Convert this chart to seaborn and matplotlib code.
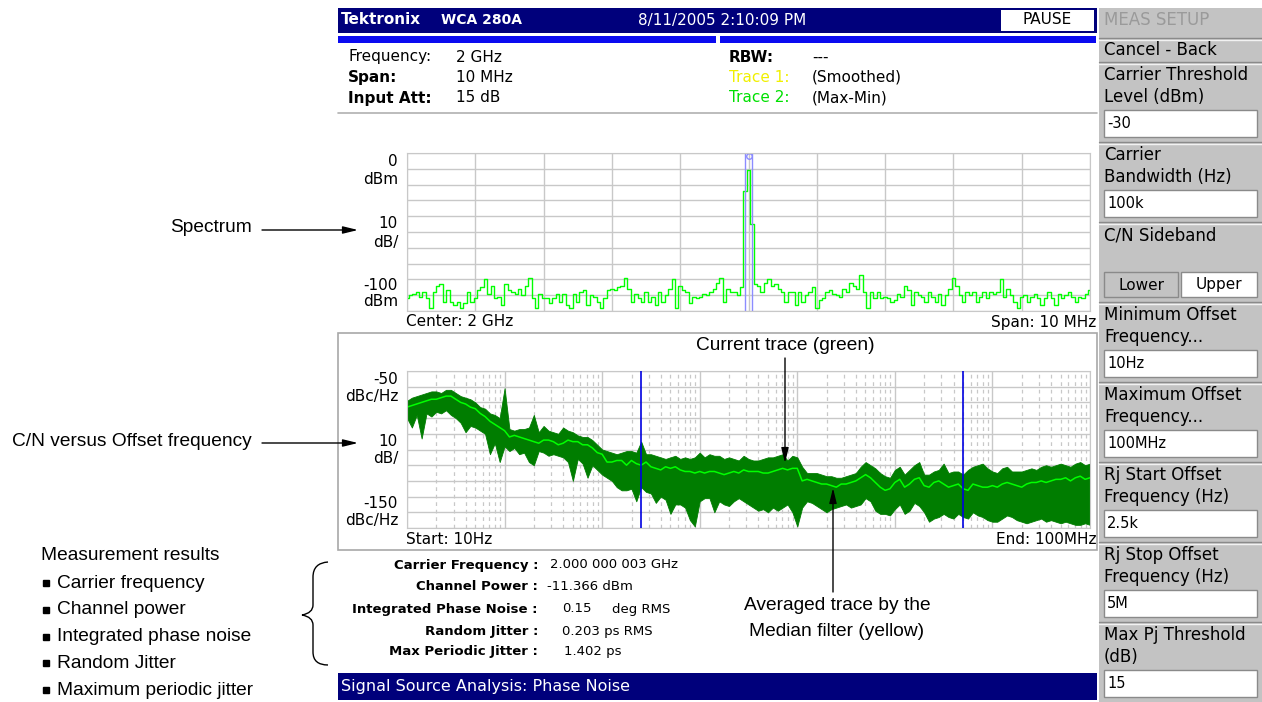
import numpy as np
import matplotlib
matplotlib.use('Agg')
import matplotlib.pyplot as plt
import seaborn as sns
from matplotlib.patches import Rectangle, PathPatch
from matplotlib.path import Path

sns.set_style('white')
plt.rcParams['font.family'] = ['DejaVu Sans']
plt.rcParams['text.color'] = 'black'

# spectrum trace, dBm, 1995..2005 MHz (0.05 MHz steps)
spectrum_dbm = [
    -92, -90, -89, -88, -91, -88, -92, -98, -88, -84,
    -83, -94, -87, -94, -96, -94, -98, -95, -88, -94,
    -92, -87, -85, -80, -89, -84, -92, -91, -96, -83,
    -87, -88, -89, -86, -90, -84, -79, -92, -98, -89,
    -92, -92, -95, -92, -89, -94, -89, -96, -98, -89,
    -94, -88, -87, -96, -90, -91, -94, -98, -92, -87,
    -86, -87, -85, -84, -79, -86, -94, -89, -92, -94,
    -88, -94, -91, -96, -88, -94, -90, -86, -80, -98,
    -84, -87, -88, -95, -91, -92, -91, -89, -90, -88,
    -86, -82, -79, -94, -86, -88, -88, -90, -85,
    -24, -11, -45,
    -83, -84, -88, -82, -80, -84, -83, -86, -88,
    -94, -88, -88, -96, -88, -94, -90, -88, -85, -98,
    -93, -92, -88, -87, -89, -90, -91, -86, -88, -82,
    -84, -86, -77, -88, -98, -88, -92, -88, -92, -91,
    -92, -94, -93, -89, -91, -84, -87, -96, -88, -90,
    -91, -94, -88, -91, -94, -89, -96, -90, -86, -79,
    -84, -90, -94, -88, -90, -88, -94, -91, -88, -92,
    -88, -89, -88, -80, -91, -86, -90, -94, -98, -91,
    -90, -94, -91, -89, -92, -96, -92, -88, -92, -96,
    -89, -92, -90, -88, -91, -94, -91, -92, -89, -87,
]

# phase noise, dBc/Hz, 10 Hz..100 MHz (0.05 decade steps)
smoothed = [
    -73, -72, -71, -70, -69, -68, -68, -67, -66, -66,
    -68, -70, -71, -73, -74, -77, -79, -82, -84, -86,
    -88, -92, -91, -92, -93, -94, -95, -96, -94, -94,
    -95, -97, -96, -94, -95, -95, -97, -97, -99, -102,
    -103, -108, -108, -107, -107, -110, -107, -109, -110, -108,
    -111, -112, -113, -111, -112, -111, -113, -114, -114, -115,
    -114, -115, -114, -114, -115, -116, -115, -114, -115, -113,
    -114, -114, -114, -115, -115, -114, -113, -112, -113, -112,
    -112, -120, -119, -120, -121, -122, -122, -123, -124, -122,
    -122, -121, -120, -118, -116, -118, -121, -124, -126, -125,
    -121, -119, -124, -122, -119, -118, -123, -124, -121, -120,
    -122, -124, -123, -122, -125, -126, -122, -123, -124, -124,
    -123, -124, -122, -121, -122, -123, -124, -122, -121, -121,
    -120, -121, -120, -119, -119, -118, -120, -118, -117, -119, -118,
]
max_trace = [
    -69, -67, -66, -65, -64, -63, -63, -64, -62, -62,
    -64, -66, -67, -68, -70, -73, -74, -77, -78, -80,
    -61, -87, -88, -87, -87, -86, -78, -89, -85, -88,
    -89, -90, -86, -88, -89, -91, -92, -92, -94, -97,
    -100, -101, -102, -103, -102, -101, -101, -102, -95, -103,
    -103, -104, -105, -106, -105, -104, -106, -105, -106, -105,
    -102, -105, -103, -104, -104, -106, -105, -106, -107, -104,
    -106, -107, -107, -106, -105, -105, -104, -103, -107, -104,
    -105, -111, -115, -115, -115, -116, -117, -117, -118, -118,
    -117, -116, -115, -111, -108, -110, -112, -115, -117, -118,
    -113, -111, -116, -113, -110, -108, -116, -116, -114, -113,
    -109, -115, -114, -114, -116, -113, -111, -110, -109, -112,
    -114, -115, -112, -111, -114, -114, -114, -113, -112, -113,
    -111, -110, -111, -110, -109, -110, -111, -109, -108, -110, -109,
]
min_trace = [
    -80, -86, -78, -93, -77, -79, -76, -77, -75, -78,
    -80, -83, -89, -85, -86, -88, -90, -103, -96, -108,
    -98, -101, -99, -103, -102, -108, -110, -101, -102, -104,
    -103, -104, -105, -108, -120, -106, -109, -118, -110, -113,
    -116, -118, -120, -124, -126, -126, -125, -133, -124, -127,
    -128, -134, -130, -132, -141, -135, -135, -137, -145, -149,
    -133, -131, -131, -140, -133, -135, -136, -133, -131, -133,
    -135, -137, -139, -138, -140, -137, -139, -137, -135, -140,
    -149, -137, -133, -134, -136, -138, -140, -138, -137, -136,
    -135, -137, -136, -135, -131, -133, -139, -141, -141, -142,
    -138, -135, -141, -139, -134, -136, -140, -146, -144, -143,
    -141, -143, -144, -141, -143, -144, -140, -142, -143, -145,
    -146, -146, -144, -142, -143, -145, -146, -147, -146, -145,
    -144, -146, -145, -146, -147, -146, -147, -148, -148, -147, -148,
]
rj_limits_hz = [2.5e3, 5e6]
carrier_band_mhz = [1999.95, 2000.05]

header_left = [('Frequency:', '2 GHz', 'normal'), ('Span:', '10 MHz', 'bold'),
               ('Input Att:', '15 dB', 'bold')]
header_right = [('RBW:', '---', 'black'), ('Trace 1:', '(Smoothed)', '#f0f000'),
                ('Trace 2:', '(Max-Min)', '#00e000')]
results = [('Carrier Frequency :', '2.000 000 003 GHz', 550),
           ('Channel Power :', '-11.366 dBm', 547),
           ('Integrated Phase Noise :', '0.15', 562),
           ('Random Jitter :', '0.203 ps RMS', 562),
           ('Max Periodic Jitter :', '1.402 ps', 564)]
menu_items = [('Carrier Threshold', 'Level (dBm)', '-30'),
              ('Carrier', 'Bandwidth (Hz)', '100k'),
              ('C/N Sideband', '', None),
              ('Minimum Offset', 'Frequency...', '10Hz'),
              ('Maximum Offset', 'Frequency...', '100MHz'),
              ('Rj Start Offset', 'Frequency (Hz)', '2.5k'),
              ('Rj Stop Offset', 'Frequency (Hz)', '5M'),
              ('Max Pj Threshold', '(dB)', '15')]
bullets = ['Carrier frequency', 'Channel power', 'Integrated phase noise',
           'Random Jitter', 'Maximum periodic jitter']

W, H = 1262, 702
fig = plt.figure(figsize=(W / 100, H / 100), dpi=100)


def rect(x0, y0, x1, y1):
    return [x0 / W, 1 - y1 / H, (x1 - x0) / W, (y1 - y0) / H]


grid_c = '#c8c8c8'
navy = '#00007b'
bright = '#00ff00'
dark = '#007d00'

# spectrum
ax1 = fig.add_axes(rect(407, 153, 1090, 311))
freq = np.linspace(1995, 2005, len(spectrum_dbm))
sns.lineplot(x=freq, y=spectrum_dbm, ax=ax1, color=bright, lw=1.0,
             estimator=None, sort=False, legend=False, drawstyle='steps-mid')
for f in carrier_band_mhz:
    ax1.axvline(f, color='#8c8cff', lw=1)
ax1.plot(2000, -2, marker='o', ms=4, mfc='none', mec='#8c8cff', clip_on=False)
ax1.set_xlim(1995, 2005)
ax1.set_ylim(-100, 0)
ax1.set_xticks(np.arange(1995, 2006, 1))
ax1.set_yticks(np.arange(-100, 1, 10))

# phase noise
ax2 = fig.add_axes(rect(407, 371, 1090, 528))
offs = np.logspace(1, 8, len(smoothed))
ax2.fill_between(offs, min_trace, max_trace, color=dark, lw=0.6, edgecolor=dark)
sns.lineplot(x=offs, y=smoothed, ax=ax2, color=bright, lw=1.1,
             estimator=None, sort=False, legend=False)
for f in rj_limits_hz:
    ax2.axvline(f, color='#0000e0', lw=1.2, zorder=5)
ax2.set_xscale('log')
ax2.set_xlim(10, 1e8)
ax2.set_ylim(-150, -50)
ax2.set_xticks(10.0 ** np.arange(1, 9))
ax2.set_xticks([m * 10.0 ** d for d in range(1, 8) for m in range(2, 10)], minor=True)
ax2.set_yticks(np.arange(-150, -49, 10))
ax2.grid(True, which='minor', axis='x', color=grid_c, lw=0.9, ls=(0, (3, 3)))

for ax in (ax1, ax2):
    ax.set_facecolor('white')
    ax.grid(True, which='major', color=grid_c, lw=1)
    ax.set_axisbelow(True)
    ax.tick_params(which='both', length=0, labelbottom=False, labelleft=False)
    ax.set_xlabel('')
    ax.set_ylabel('')
    for s in ax.spines.values():
        s.set_color(grid_c)

# overlay for all the screen furniture
top = fig.add_axes([0, 0, 1, 1], zorder=10)
top.set_xlim(0, W)
top.set_ylim(H, 0)
top.axis('off')
top.patch.set_visible(False)


def box(x0, y0, x1, y1, **kw):
    top.add_patch(Rectangle((x0, y0), x1 - x0, y1 - y0, **kw))


def txt(x, y, s, **kw):
    kw.setdefault('va', 'center')
    kw.setdefault('fontsize', 10.5)
    top.text(x, y, s, **kw)


# title bar
box(338, 8, 1097, 33, color=navy, lw=0)
txt(341, 20, 'Tektronix', color='white', weight='bold', fontsize=11)
txt(441, 20, 'WCA 280A', color='white', weight='bold', fontsize=10)
txt(638, 20, '8/11/2005 2:10:09 PM', color='white', fontsize=11)
box(1001, 10, 1094, 31, color='white', lw=0)
txt(1047, 20, 'PAUSE', ha='center', fontsize=11)
box(338, 36, 716, 43, color='#0a0af0', lw=0)
box(720, 36, 1096, 43, color='#0a0af0', lw=0)
top.plot([338, 1097], [113, 113], color='#b0b0b0', lw=1.2)

for i, (lab, val, wt) in enumerate(header_left):
    y = 57 + i * 20.5
    txt(348, y, lab, weight=wt, fontsize=11)
    txt(456, y, val, fontsize=11)
for i, (lab, val, col) in enumerate(header_right):
    y = 57 + i * 20.5
    txt(729, y, lab, color=col, weight='bold' if i == 0 else 'normal', fontsize=11)
    txt(812, y, val, fontsize=11)

# axis captions
for y, s in [(161, '0'), (179, 'dBm'), (224, '10'), (242, 'dB/'), (285, '-100'), (302, 'dBm')]:
    txt(398, y, s, ha='right', fontsize=11)
for y, s in [(380, '-50'), (397, 'dBc/Hz'), (441, '10'), (458, 'dB/'), (503, '-150'), (520, 'dBc/Hz')]:
    txt(398, y, s, ha='right', fontsize=11)
txt(406, 322, 'Center: 2 GHz', fontsize=11)
txt(1096, 322, 'Span: 10 MHz', ha='right', fontsize=11)
txt(406, 540, 'Start: 10Hz', fontsize=11)
txt(1096, 540, 'End: 100MHz', ha='right', fontsize=11)
box(338, 333, 1097, 550, fill=False, edgecolor='#a8a8a8', lw=1.2)

# results
for i, (lab, val, xv) in enumerate(results):
    y = [565, 586, 609, 631, 652][i]
    txt(538, y, lab, ha='right', weight='bold', fontsize=9.5)
    txt(xv, y, val, fontsize=9.5)
txt(612, 609, 'deg RMS', fontsize=9.5)

box(338, 673, 1097, 700, color=navy, lw=0)
txt(341, 687, 'Signal Source Analysis: Phase Noise', color='white', fontsize=11.5)

# side menu
box(1099, 8, 1262, 702, color='#c3c3c3', lw=0)
txt(1104, 20, 'MEAS SETUP', color='#9a9a9a', fontsize=12)
txt(1104, 50, 'Cancel - Back', fontsize=12)
for y in [38, 62, 142, 222, 302, 382, 462, 542, 622]:
    top.plot([1099, 1262], [y, y], color='#8a8a8a', lw=1)
    top.plot([1099, 1262], [y + 1.5, y + 1.5], color='#f2f2f2', lw=1)
for i, (l1, l2, val) in enumerate(menu_items):
    y0 = 62 + i * 80
    txt(1104, y0 + 13, l1, fontsize=12)
    if l2:
        txt(1104, y0 + 35, l2, fontsize=12)
    if val is not None:
        box(1104, y0 + 48, 1257, y0 + 75, facecolor='white', edgecolor='#8a8a8a', lw=1)
        txt(1107, y0 + 62, val, fontsize=10.5)
box(1104, 272, 1178, 297, facecolor='#c3c3c3', edgecolor='#8a8a8a', lw=1)
box(1181, 272, 1257, 297, facecolor='white', edgecolor='#8a8a8a', lw=1)
txt(1141, 285, 'Lower', ha='center', fontsize=11)
txt(1219, 285, 'Upper', ha='center', fontsize=11)

# callouts
note = dict(family=['Liberation Sans'], fontsize=13.8)
arrow = dict(arrowstyle='-|>,head_length=0.9,head_width=0.22', color='black', lw=1,
             shrinkA=0, shrinkB=0)
txt(252, 227, 'Spectrum', ha='right', **note)
top.annotate('', xy=(358, 230), xytext=(262, 230), arrowprops=arrow)
txt(252, 442, 'C/N versus Offset frequency', ha='right', **note)
top.annotate('', xy=(358, 443), xytext=(262, 443), arrowprops=arrow)
txt(785, 345, 'Current trace (green)', ha='center', **note)
top.annotate('', xy=(785, 463), xytext=(785, 358), arrowprops=arrow)
txt(837, 605, 'Averaged trace by the', ha='center', **note)
txt(837, 632, 'Median filter (yellow)', ha='center', **note)
top.annotate('', xy=(833, 488), xytext=(833, 592), arrowprops=arrow)

txt(41, 556, 'Measurement results', **note)
for i, b in enumerate(bullets):
    y = 583 + i * 26.8
    top.plot(46, y, marker='s', ms=4.5, color='black')
    txt(57, y, b, **note)

# brace
verts = [(328, 562), (313, 563), (313, 577), (313, 605), (313, 613), (302, 615),
         (313, 617), (313, 625), (313, 652), (313, 665), (328, 665)]
codes = [Path.MOVETO, Path.CURVE3, Path.CURVE3, Path.LINETO, Path.CURVE3, Path.CURVE3,
         Path.CURVE3, Path.CURVE3, Path.LINETO, Path.CURVE3, Path.CURVE3]
top.add_patch(PathPatch(Path(verts, codes), fill=False, lw=1, color='black'))

fig.savefig('out.png', dpi=100)
